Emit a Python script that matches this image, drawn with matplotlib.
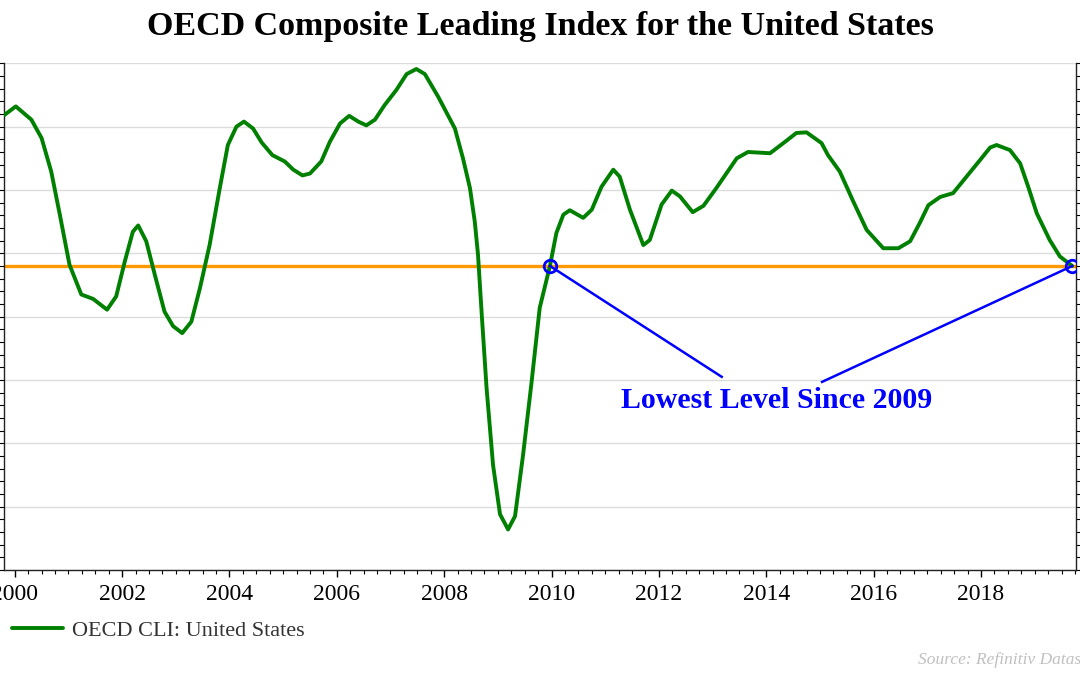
import matplotlib
matplotlib.use("Agg")
import matplotlib.pyplot as plt
from matplotlib.ticker import MultipleLocator

plt.rcParams['font.family'] = ['Liberation Serif', 'DejaVu Serif']

# OECD CLI values (decimal year, index)
years = [1999.80, 2000.02, 2000.31, 2000.50, 2000.68, 2000.84, 2001.02, 2001.24,
         2001.46, 2001.72, 2001.89, 2002.05, 2002.20, 2002.30, 2002.45, 2002.61,
         2002.79, 2002.95, 2003.12, 2003.29, 2003.45, 2003.63, 2003.82, 2003.97,
         2004.13, 2004.27, 2004.44, 2004.60, 2004.80, 2005.03, 2005.19, 2005.36,
         2005.50, 2005.71, 2005.87, 2006.06, 2006.23, 2006.40, 2006.55, 2006.71,
         2006.89, 2007.11, 2007.30, 2007.48, 2007.64, 2007.89, 2008.20, 2008.35,
         2008.48, 2008.57, 2008.63, 2008.70, 2008.79, 2008.91, 2009.04, 2009.19,
         2009.32, 2009.47, 2009.63, 2009.78, 2009.97, 2010.09, 2010.22, 2010.34,
         2010.59, 2010.75, 2010.93, 2011.15, 2011.27, 2011.46, 2011.71, 2011.83,
         2012.05, 2012.24, 2012.39, 2012.63, 2012.83, 2013.07, 2013.45, 2013.66,
         2014.07, 2014.38, 2014.56, 2014.75, 2015.03, 2015.15, 2015.37, 2015.62,
         2015.87, 2016.18, 2016.46, 2016.68, 2016.86, 2017.02, 2017.24, 2017.48,
         2017.73, 2017.98, 2018.17, 2018.29, 2018.54, 2018.73, 2018.88, 2019.04,
         2019.28, 2019.47, 2019.70]
cli = [101.18, 101.32, 101.11, 100.82, 100.29, 99.61, 98.82, 98.35,
       98.28, 98.11, 98.32, 98.87, 99.34, 99.44, 99.19, 98.66,
       98.08, 97.85, 97.74, 97.92, 98.45, 99.13, 100.03, 100.71,
       101.00, 101.08, 100.97, 100.75, 100.55, 100.45, 100.32, 100.23,
       100.26, 100.45, 100.76, 101.05, 101.17, 101.08, 101.02, 101.11,
       101.34, 101.58, 101.83, 101.91, 101.83, 101.47, 100.97, 100.50,
       100.03, 99.50, 98.98, 98.03, 96.87, 95.66, 94.88, 94.64,
       94.85, 95.82, 96.98, 98.14, 98.80, 99.32, 99.61, 99.68,
       99.56, 99.69, 100.05, 100.32, 100.21, 99.69, 99.13, 99.21,
       99.77, 99.99, 99.90, 99.65, 99.75, 100.03, 100.50, 100.60,
       100.58, 100.78, 100.90, 100.91, 100.74, 100.55, 100.29, 99.82,
       99.37, 99.08, 99.08, 99.19, 99.48, 99.76, 99.89, 99.95,
       100.21, 100.47, 100.67, 100.71, 100.63, 100.42, 100.05, 99.63,
       99.21, 98.95, 98.80]

level_2019 = 98.8
marked_years = [2009.97, 2019.70]
note_xy = (2014.2, 96.67)
note_ends = [(2013.17, 97.05), (2015.04, 96.97)]

fig = plt.figure(figsize=(10.8, 6.75), dpi=100)
ax = fig.add_axes([4 / 1080, 0.1556, 1072 / 1080, 0.7506])

ax.grid(axis='y', color='#dcdcdc', lw=1.0)
ax.set_axisbelow(True)

ax.plot(years, cli, color='#008000', lw=2.8, label='OECD CLI: United States',
        solid_joinstyle='round', solid_capstyle='round', zorder=3)
ax.axhline(level_2019, color='#ff9900', lw=2.4, zorder=2)

for (ex, ey), mx in zip(note_ends, marked_years):
    ax.plot([mx, ex], [level_2019, ey], color='#0000ff', lw=1.8, zorder=4)
ax.plot(marked_years, [level_2019] * len(marked_years), 'o', ms=9, mfc='none',
        mec='#0000ff', mew=2, zorder=5)
ax.text(note_xy[0], note_xy[1], 'Lowest Level Since 2009', color='#0000ff',
        fontsize=21.5, fontweight='bold', ha='center', va='center')

ax.set_xlim(1999.8, 2019.77)
ax.set_ylim(94, 102)
ax.xaxis.set_minor_locator(MultipleLocator(0.25))
ax.yaxis.set_major_locator(MultipleLocator(1))
ax.yaxis.set_minor_locator(MultipleLocator(0.2))
ax.set_xticks(range(2000, 2019, 2))
ax.tick_params(axis='x', which='major', direction='out', length=5, width=1,
               labelsize=17, pad=5)
ax.tick_params(axis='x', which='minor', direction='out', length=3, width=0.8)
ax.tick_params(axis='y', which='both', direction='out', left=True, right=True,
               labelleft=False, labelright=False, length=4, width=0.8)

ax.spines['top'].set_visible(False)
for s in ['left', 'right', 'bottom']:
    ax.spines[s].set_color('#222222')
    ax.spines[s].set_linewidth(1.0)

fig.text(0.5, 1 - 26 / 675, 'OECD Composite Leading Index for the United States',
         ha='center', va='center', fontsize=24.5, fontweight='bold')

ax.legend(loc='center left', bbox_to_anchor=(12 / 1080, 1 - 631 / 675),
          bbox_transform=fig.transFigure, frameon=False, fontsize=16,
          handlelength=2.3, handletextpad=0.4, borderpad=0, borderaxespad=0,
          labelcolor='#333333')

fig.text(918 / 1080, 1 - 660 / 675, 'Source: Refinitiv Datastream', ha='left',
         va='center', fontsize=12.5, style='italic', color='#c0c0c0')

fig.savefig('out.png', dpi=100)
